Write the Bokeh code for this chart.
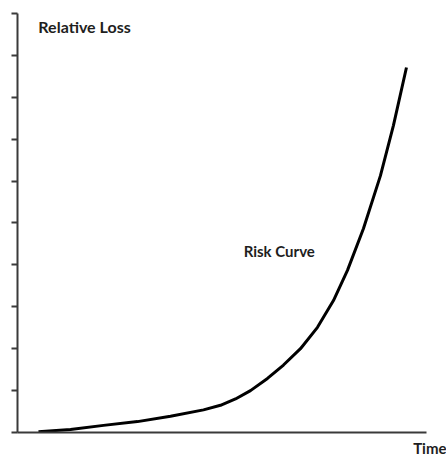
from bokeh.plotting import figure
from bokeh.models import Range1d, LinearAxis, FixedTicker, Label, Title
from bokeh.embed import file_html
from bokeh.resources import INLINE

# Risk curve (time in arbitrary units 0-100, relative loss 0-10)
time = [5.13, 12.96, 21.03, 29.34, 37.41, 45.48, 49.63, 53.30, 56.97, 61.12, 65.04,
        69.19, 73.35, 77.26, 80.68, 84.60, 88.75, 91.93, 95.11]
loss = [0.02, 0.07, 0.17, 0.26, 0.39, 0.54, 0.65, 0.80, 1.00, 1.29, 1.61,
        2.00, 2.51, 3.15, 3.87, 4.87, 6.13, 7.33, 8.71]
y_ticks = [0, 1, 2, 3, 4, 5, 6, 7, 8, 9, 10]

p = figure(width=446, height=460, output_backend="svg", toolbar_location=None,
           x_range=Range1d(0, 104.9), y_range=Range1d(0, 10.31),
           x_axis_location=None, y_axis_location=None,
           min_border_left=17, min_border_right=0, min_border_top=0, min_border_bottom=28)
p.outline_line_color = None
p.xgrid.visible = False
p.ygrid.visible = False
p.background_fill_color = "white"
p.border_fill_color = "white"

axis_color = "#3a3a3a"
yax = LinearAxis(ticker=FixedTicker(ticks=y_ticks), bounds=(0, 10))
yax.axis_line_color = axis_color
yax.axis_line_width = 2
yax.major_tick_line_color = axis_color
yax.major_tick_line_width = 2
yax.major_tick_out = 6
yax.major_tick_in = 0
yax.minor_tick_line_color = None
yax.major_label_overrides = {t: "" for t in y_ticks}
yax.major_label_text_font_size = "1px"
yax.major_label_standoff = 0
p.add_layout(yax, "left")

xax = LinearAxis(ticker=FixedTicker(ticks=[]), bounds=(0, 100))
xax.axis_line_color = axis_color
xax.axis_line_width = 2
xax.major_tick_line_color = None
xax.minor_tick_line_color = None
xax.major_label_text_font_size = "1px"
xax.major_label_standoff = 0
p.add_layout(xax, "below")

p.line(time, loss, line_color="black", line_width=3, line_join="round")

font = "Lato"
for txt, x, y, fs in [("Relative Loss", 5.1, 9.69, "16px"), ("Risk Curve", 55.3, 4.34, "15px")]:
    p.add_layout(Label(x=x, y=y, text=txt, text_font=font, text_font_style="bold",
                       text_font_size=fs, text_color="#1e1e1e",
                       text_baseline="middle", text_align="left"))

p.add_layout(Title(text="Time", align="right", text_font=font, text_font_style="bold",
                   text_font_size="15px", text_color="#1e1e1e", standoff=8,
                   vertical_align="bottom"), "below")

open("out.html", "w").write(file_html(p, INLINE))
